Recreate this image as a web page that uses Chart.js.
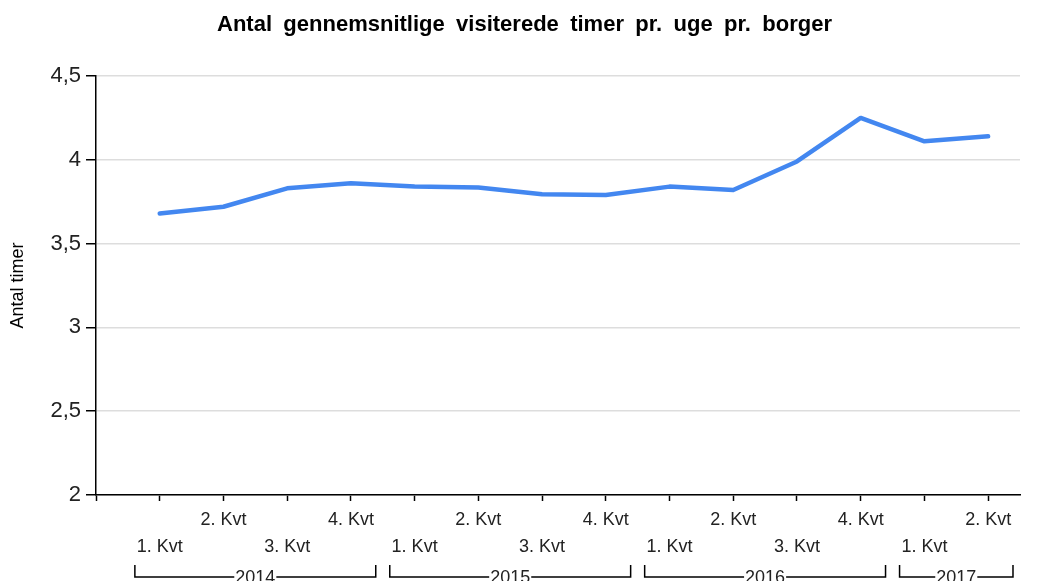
<!DOCTYPE html>
<html>
<head>
<meta charset="utf-8">
<script src="https://cdn.jsdelivr.net/npm/chart.js@4/dist/chart.umd.min.js"></script>
<style>
  html, body { margin: 0; padding: 0; background: #fff; }
  #wrap { width: 1043px; height: 581px; }
</style>
</head>
<body>
<div id="wrap"><canvas id="c" width="1043" height="581"></canvas></div>
<script>
const chartTitle = 'Antal gennemsnitlige visiterede timer pr. uge pr. borger';
const yAxisTitle = 'Antal timer';
const quarters = ['1. Kvt','2. Kvt','3. Kvt','4. Kvt','1. Kvt','2. Kvt','3. Kvt','4. Kvt','1. Kvt','2. Kvt','3. Kvt','4. Kvt','1. Kvt','2. Kvt'];
const values = [3.68, 3.72, 3.83, 3.86, 3.84, 3.835, 3.795, 3.79, 3.84, 3.82, 3.99, 4.25, 4.11, 4.14];
const years = ['2014','2015','2016','2017'];
const yearCounts = [4, 4, 4, 2];
const yTicks = [2, 2.5, 3, 3.5, 4, 4.5];

const FONT = '"Liberation Sans", Arial, sans-serif';

const yearBrackets = {
  id: 'yearBrackets',
  afterDraw(chart) {
    const ctx = chart.ctx;
    const xs = chart.scales.x;
    ctx.save();
    ctx.strokeStyle = '#000';
    ctx.lineWidth = 1.5;
    ctx.font = '18px ' + FONT;
    ctx.fillStyle = '#222';
    ctx.textAlign = 'center';
    ctx.textBaseline = 'alphabetic';
    let start = 0;
    const yTop = 565, yLine = 577;
    years.forEach((yr, k) => {
      const end = start + yearCounts[k] - 1;
      const x1 = xs.getPixelForValue(start - 0.39);
      const x2 = xs.getPixelForValue(end + 0.39);
      const cx = (x1 + x2) / 2;
      const tw = ctx.measureText(yr).width;
      ctx.beginPath();
      ctx.moveTo(x1, yTop); ctx.lineTo(x1, yLine); ctx.lineTo(cx - tw / 2 - 1, yLine);
      ctx.moveTo(cx + tw / 2 + 1, yLine); ctx.lineTo(x2, yLine); ctx.lineTo(x2, yTop);
      ctx.stroke();
      ctx.fillText(yr, cx, 583);
      start = end + 1;
    });
    // chart title
    ctx.font = 'bold 22px ' + FONT;
    ctx.fillStyle = '#000';
    ctx.textAlign = 'left';
    const words = chartTitle.split(' ');
    const targetW = 615;
    const natural = words.reduce((s, w) => s + ctx.measureText(w).width, 0);
    const gap = (targetW - natural) / (words.length - 1);
    let x = 524.5 - targetW / 2;
    words.forEach(w => {
      ctx.fillText(w, x, 31);
      x += ctx.measureText(w).width + gap;
    });
    ctx.restore();
  }
};

new Chart(document.getElementById('c'), {
  type: 'line',
  data: {
    datasets: [{
      data: values.map((v, i) => ({ x: i, y: v })),
      borderColor: '#4387f0',
      borderWidth: 4.5,
      pointRadius: 0,
      tension: 0,
      fill: false,
      borderCapStyle: 'round',
      borderJoinStyle: 'round'
    }]
  },
  options: {
    responsive: false,
    animation: false,
    devicePixelRatio: 1,
    layout: { padding: { top: 76, right: 23, left: 0, bottom: 0 } },
    plugins: { legend: { display: false }, tooltip: { enabled: false }, title: { display: false } },
    scales: {
      x: {
        type: 'linear',
        min: -1,
        max: 13.5,
        afterBuildTicks(scale) {
          const t = [];
          for (let i = -1; i < quarters.length; i++) t.push({ value: i });
          scale.ticks = t;
        },
        afterFit(scale) { scale.height = 86; },
        border: { color: '#000', width: 1.5 },
        grid: { drawOnChartArea: false, drawTicks: true, tickLength: 6, tickColor: '#000', tickWidth: 1.5 },
        ticks: {
          autoSkip: false,
          maxRotation: 0,
          minRotation: 0,
          padding: 6,
          color: '#222',
          font: { family: FONT, size: 18, lineHeight: '26.5px' },
          callback(v) {
            const i = Math.round(v);
            if (i < 0 || i >= quarters.length) return '';
            return i % 2 === 1 ? quarters[i] : ['', quarters[i]];
          }
        }
      },
      y: {
        min: 2,
        max: 4.5,
        afterBuildTicks(scale) { scale.ticks = yTicks.map(v => ({ value: v })); },
        afterFit(scale) { scale.width = 96; },
        border: { color: '#000', width: 1.5 },
        grid: { color: '#dddddd', lineWidth: 1.5, tickColor: '#000', tickLength: 10, tickWidth: 1.5 },
        title: { display: true, text: yAxisTitle, color: '#000', font: { family: FONT, size: 18 }, padding: { top: 7, bottom: 0 } },
        ticks: {
          color: '#222',
          padding: 5,
          font: { family: FONT, size: 22 },
          callback(v) { return String(v).replace('.', ','); }
        }
      }
    }
  },
  plugins: [yearBrackets]
});
</script>
</body>
</html>
